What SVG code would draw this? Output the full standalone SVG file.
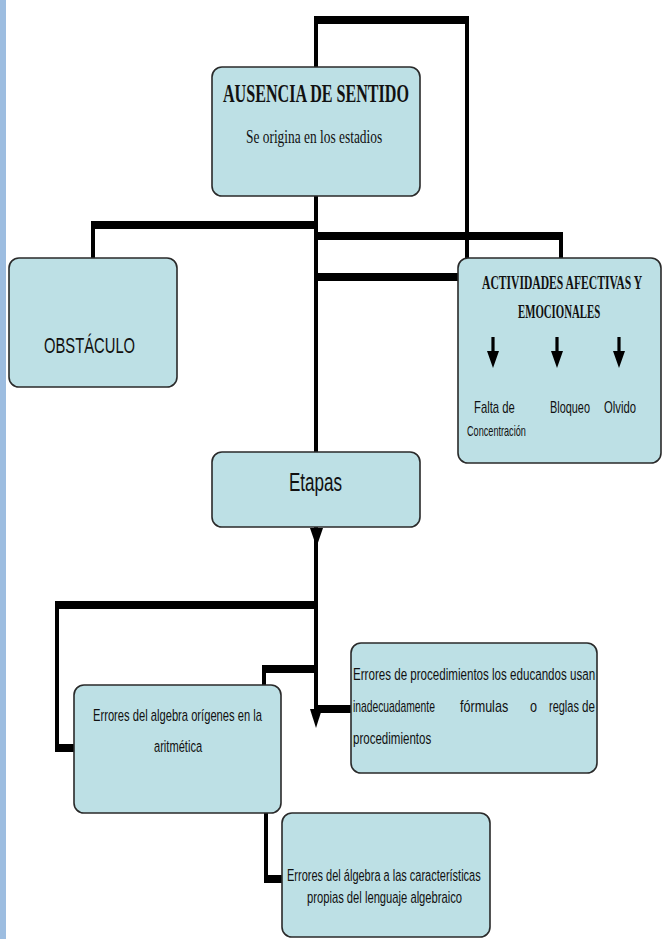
<svg xmlns="http://www.w3.org/2000/svg" width="662" height="939" viewBox="0 0 662 939">
<style>
.box{fill:#bde0e5;stroke:#2a2a2a;stroke-width:1.6}
.thick{fill:none;stroke:#000;stroke-width:8;stroke-linecap:butt;stroke-linejoin:round}
.thin{fill:none;stroke:#000;stroke-width:4}
.serif{font-family:"Liberation Serif","Times New Roman",serif;fill:#111}
.sans{font-family:"Liberation Sans",Arial,sans-serif;fill:#111}
</style>
<defs>
<path id="darr" d="M-1.6,0 H1.6 V14 H6 L0,31 L-6,14 H-1.6 Z" fill="#000"/>
</defs>
<rect x="0" y="0" width="662" height="939" fill="#fff"/>
<rect x="0" y="0" width="6" height="939" fill="#9dbde0"/>

<g id="connectors">
<path class="thin" d="M316,67 V20"/>
<path class="thin" d="M467,20 V258"/>
<path class="thick" d="M314,20 H469"/>
<path class="thin" d="M316,196 V452"/>
<path class="thin" d="M93,225 V258"/>
<path class="thick" d="M91,225 H318"/>
<path class="thick" d="M316,236 H561"/>
<path class="thin" d="M561,232 V258"/>
<path class="thick" d="M316,277 H458"/>
<path d="M310,528 H323 L316.5,547 Z" fill="#000"/>
<path class="thin" d="M316,527 V712"/>
<path class="thick" d="M55,605 H318"/>
<path class="thin" d="M57,601 V752"/>
<path class="thick" d="M55,748 H74"/>
<path class="thick" d="M262,669 H318"/>
<path class="thin" d="M264,665 V685"/>
<path class="thick" d="M316,709 H351"/>
<path d="M310,709 H322 L316,728 Z" fill="#000"/>
<path class="thin" d="M266,813 V883"/>
<path class="thick" d="M264,879 H282"/>
</g>

<g id="n1">
<rect class="box" x="212" y="67" width="208" height="129" rx="10"/>
<text class="serif" transform="translate(223,102) scale(0.62,1)" font-size="26" font-weight="bold" textLength="300" lengthAdjust="spacingAndGlyphs">AUSENCIA DE SENTIDO</text>
<text class="serif" transform="translate(246,143) scale(0.74,1)" font-size="18" textLength="184" lengthAdjust="spacingAndGlyphs">Se origina en los estadios</text>
</g>

<g id="n2">
<rect class="box" x="9" y="258" width="168" height="129" rx="10"/>
<text class="sans" transform="translate(44,353) scale(0.67,1)" font-size="22" textLength="136" lengthAdjust="spacingAndGlyphs">OBSTÁCULO</text>
</g>

<g id="n3">
<rect class="box" x="458" y="258" width="203" height="205" rx="10"/>
<text class="serif" transform="translate(482,289) scale(0.63,1)" font-size="18" font-weight="bold" textLength="254" lengthAdjust="spacingAndGlyphs">ACTIVIDADES AFECTIVAS Y</text>
<text class="serif" transform="translate(518,318) scale(0.6,1)" font-size="18" font-weight="bold" textLength="137" lengthAdjust="spacingAndGlyphs">EMOCIONALES</text>
<use href="#darr" x="493" y="337"/>
<use href="#darr" x="557" y="337"/>
<use href="#darr" x="619" y="337"/>
<text class="sans" transform="translate(474,413) scale(0.69,1)" font-size="16" textLength="59" lengthAdjust="spacingAndGlyphs">Falta de</text>
<text class="sans" transform="translate(467,436) scale(0.64,1)" font-size="14" textLength="92" lengthAdjust="spacingAndGlyphs">Concentración</text>
<text class="sans" transform="translate(550,413) scale(0.65,1)" font-size="16" textLength="61.5" lengthAdjust="spacingAndGlyphs">Bloqueo</text>
<text class="sans" transform="translate(604,413) scale(0.71,1)" font-size="16" textLength="45" lengthAdjust="spacingAndGlyphs">Olvido</text>
</g>

<g id="n4">
<rect class="box" x="212" y="452" width="208" height="75" rx="10"/>
<text class="sans" transform="translate(289,491) scale(0.68,1)" font-size="25" textLength="78" lengthAdjust="spacingAndGlyphs">Etapas</text>
</g>

<g id="n5">
<rect class="box" x="74" y="685" width="207" height="128" rx="10"/>
<text class="sans" transform="translate(93,721) scale(0.66,1)" font-size="17" textLength="256" lengthAdjust="spacingAndGlyphs">Errores del algebra orígenes en la</text>
<text class="sans" transform="translate(154,752) scale(0.65,1)" font-size="17" textLength="74" lengthAdjust="spacingAndGlyphs">aritmética</text>
</g>

<g id="n6">
<rect class="box" x="351" y="643" width="246" height="130" rx="10"/>
<text class="sans" transform="translate(353,680) scale(0.68,1)" font-size="17" textLength="356" lengthAdjust="spacingAndGlyphs">Errores de procedimientos los educandos usan</text>
<text class="sans" transform="translate(353,712) scale(0.64,1)" font-size="17" textLength="128" lengthAdjust="spacingAndGlyphs">inadecuadamente</text>
<text class="sans" transform="translate(460,712) scale(0.66,1)" font-size="17" textLength="73" lengthAdjust="spacingAndGlyphs">fórmulas</text>
<text class="sans" transform="translate(530,712) scale(0.74,1)" font-size="17" textLength="9.5" lengthAdjust="spacingAndGlyphs">o</text>
<text class="sans" transform="translate(549,712) scale(0.65,1)" font-size="17" textLength="46" lengthAdjust="spacingAndGlyphs">reglas</text>
<text class="sans" transform="translate(582,712) scale(0.68,1)" font-size="17" textLength="19" lengthAdjust="spacingAndGlyphs">de</text>
<text class="sans" transform="translate(353,744) scale(0.68,1)" font-size="17" textLength="115" lengthAdjust="spacingAndGlyphs">procedimientos</text>
</g>

<g id="n7">
<rect class="box" x="282" y="813" width="208" height="124" rx="10"/>
<text class="sans" transform="translate(287,881) scale(0.65,1)" font-size="17" textLength="298" lengthAdjust="spacingAndGlyphs">Errores del álgebra a las características</text>
<text class="sans" transform="translate(307,903) scale(0.66,1)" font-size="17" textLength="235" lengthAdjust="spacingAndGlyphs">propias del lenguaje algebraico</text>
</g>
</svg>
